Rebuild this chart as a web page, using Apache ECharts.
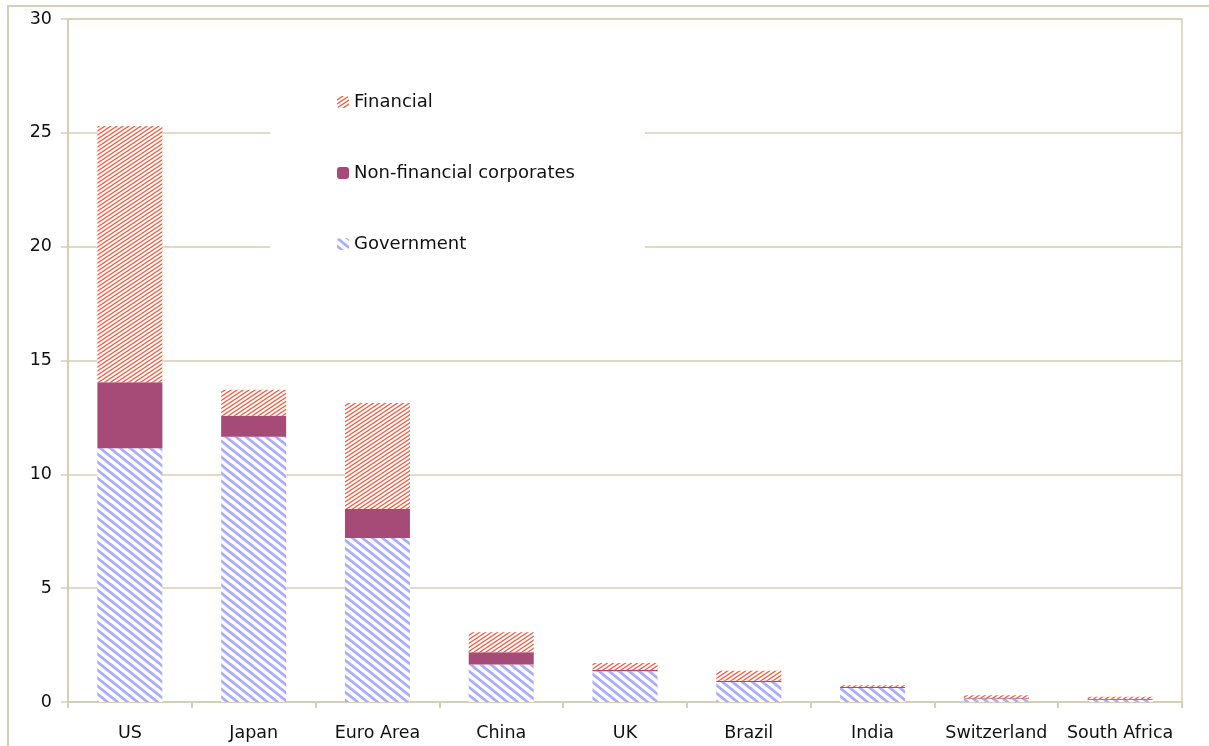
<!DOCTYPE html>
<html>
<head>
<meta charset="utf-8">
<script src="https://cdn.jsdelivr.net/npm/echarts@6/dist/echarts.min.js"></script>
<style>
  html, body { margin: 0; padding: 0; background: #fff; }
  #chart { width: 1209px; height: 746px; }
</style>
</head>
<body>
<div id="chart"></div>
<script>
var countries = ['US', 'Japan', 'Euro Area', 'China', 'UK', 'Brazil', 'India', 'Switzerland', 'South Africa'];
var government = [11.15, 11.65, 7.2, 1.65, 1.35, 0.88, 0.62, 0.13, 0.1];
var nonFinancial = [2.9, 0.92, 1.28, 0.53, 0.06, 0.05, 0.04, 0.03, 0.03];
var financial = [11.25, 1.15, 4.65, 0.88, 0.3, 0.44, 0.08, 0.14, 0.1];
var yTicks = [0, 5, 10, 15, 20, 25, 30];

// diagonal hatch tile (w x h) for bar fills, lines run past the tile edges so it tiles cleanly
function hatch(w, h, color, width, backslash) {
    var c = document.createElement('canvas');
    c.width = w;
    c.height = h;
    var ctx = c.getContext('2d');
    ctx.fillStyle = '#fff';
    ctx.fillRect(0, 0, w, h);
    ctx.strokeStyle = color;
    ctx.lineWidth = width;
    for (var k = -2; k <= 2; k++) {
        ctx.beginPath();
        if (backslash) {
            ctx.moveTo(k * w - w, -h);
            ctx.lineTo(k * w + 2 * w, 2 * h);
        } else {
            ctx.moveTo(k * w - w, 2 * h);
            ctx.lineTo(k * w + 2 * w, -h);
        }
        ctx.stroke();
    }
    return { image: c, repeat: 'repeat' };
}

var axisColor = '#d6cfb4';
var font = 'DejaVu Sans';

var chart = echarts.init(document.getElementById('chart'));
var option = {
    backgroundColor: '#fff',
    animation: false,
    grid: {
        left: 68,
        right: 27,
        top: 19,
        bottom: 44,
        show: true,
        borderColor: axisColor,
        borderWidth: 1.5
    },
    graphic: [{
        type: 'rect',
        shape: { x: 8, y: 6, width: 1400, height: 900 },
        style: { fill: 'none', stroke: axisColor, lineWidth: 2 },
        silent: true
    }],
    legend: {
        orient: 'vertical',
        left: 270,
        top: 63,
        data: ['Financial', 'Non-financial corporates', 'Government'],
        backgroundColor: '#fff',
        padding: [30, 70, 24, 67],
        itemWidth: 12,
        itemHeight: 12,
        itemGap: 53,
        textStyle: { fontFamily: font, fontSize: 18, color: '#111' }
    },
    xAxis: {
        type: 'category',
        data: countries,
        axisLine: { lineStyle: { color: axisColor, width: 2 } },
        axisTick: { show: true, interval: 0, length: 6, lineStyle: { color: axisColor, width: 2 } },
        axisLabel: { interval: 0, fontFamily: font, fontSize: 17.5, color: '#111', margin: 22 }
    },
    yAxis: {
        type: 'value',
        min: yTicks[0],
        max: yTicks[yTicks.length - 1],
        interval: 5,
        axisLine: { show: true, lineStyle: { color: axisColor, width: 2 } },
        axisTick: { show: true, length: 7, lineStyle: { color: axisColor, width: 1.5 } },
        splitLine: { lineStyle: { color: axisColor, width: 1.5 } },
        axisLabel: { fontFamily: font, fontSize: 17.5, color: '#111', margin: 16, padding: [9, 0, 0, 0] }
    },
    series: [{
        name: 'Government',
        type: 'bar',
        stack: 'total',
        barWidth: 65,
        data: government,
        itemStyle: { color: hatch(10, 8, '#a9adff', 2.8, true) }
    }, {
        name: 'Non-financial corporates',
        type: 'bar',
        stack: 'total',
        data: nonFinancial,
        itemStyle: { color: '#a64a77' }
    }, {
        name: 'Financial',
        type: 'bar',
        stack: 'total',
        data: financial,
        itemStyle: { color: hatch(6, 4, '#f35a3e', 1.3, false) }
    }]
};
chart.setOption(option);
</script>
</body>
</html>
